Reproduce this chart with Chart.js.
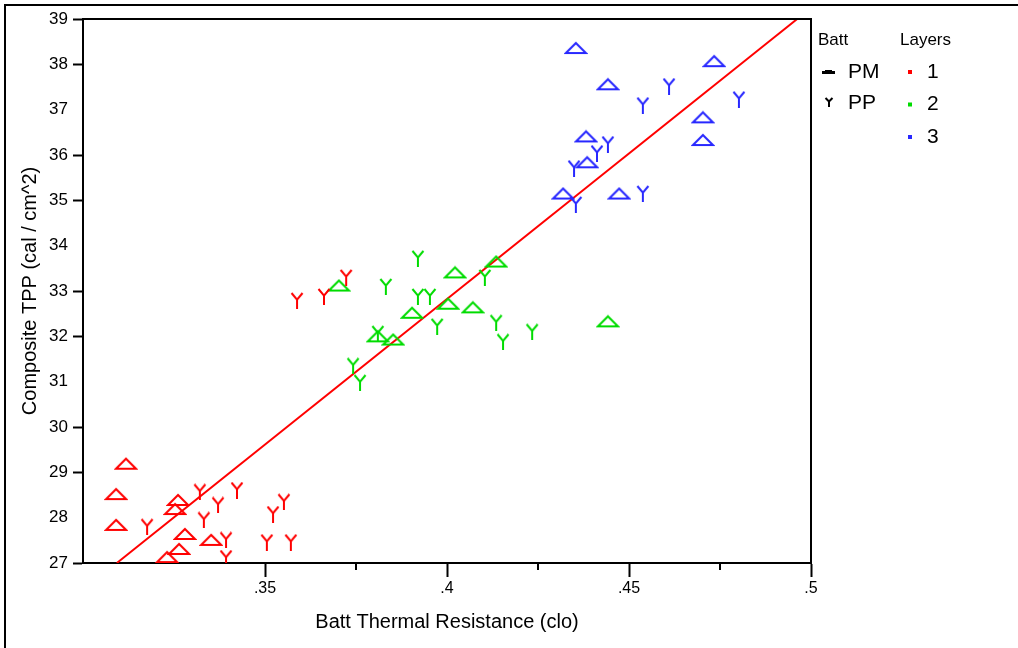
<!DOCTYPE html>
<html>
<head>
<meta charset="utf-8">
<script src="https://cdn.jsdelivr.net/npm/chart.js@4/dist/chart.umd.min.js"></script>
<style>
  html, body { margin: 0; padding: 0; background: #fff; }
  #wrap { width: 1018px; height: 648px; }
</style>
</head>
<body>
<div id="wrap"><canvas id="myChart" width="1018" height="648"></canvas></div>
<script>
  // data: [Batt thermal resistance (clo), composite TPP]
  const pmLayer1 = [[0.3118, 29.19], [0.3091, 28.52], [0.3091, 27.84], [0.3261, 28.39], [0.3253, 28.19],
                    [0.3280, 27.64], [0.3352, 27.51], [0.3264, 27.31], [0.3231, 27.13]];
  const ppLayer1 = [[0.3176, 27.80], [0.3321, 28.57], [0.3423, 28.61], [0.3371, 28.28], [0.3332, 27.95],
                    [0.3552, 28.35], [0.3522, 28.08], [0.3393, 27.51], [0.3505, 27.46], [0.3571, 27.46],
                    [0.3393, 27.11], [0.3723, 33.30], [0.3662, 32.88], [0.3588, 32.79]];
  const pmLayer2 = [[0.3703, 33.12], [0.4022, 33.41], [0.4135, 33.65], [0.4003, 32.72], [0.4071, 32.64],
                    [0.3904, 32.52], [0.3810, 32.00], [0.3852, 31.93], [0.4442, 32.33]];
  const ppLayer2 = [[0.3920, 33.72], [0.3832, 33.10], [0.3920, 32.88], [0.3953, 32.88], [0.3973, 32.22],
                    [0.4104, 33.30], [0.4135, 32.30], [0.4154, 31.88], [0.4234, 32.10], [0.3742, 31.35],
                    [0.3761, 30.98], [0.3810, 32.06]];
  const pmLayer3 = [[0.4354, 38.36], [0.4442, 37.56], [0.4734, 38.07], [0.4703, 36.83], [0.4703, 36.33],
                    [0.4382, 36.41], [0.4385, 35.84], [0.4319, 35.15], [0.4473, 35.15]];
  const ppLayer3 = [[0.4610, 37.52], [0.4538, 37.10], [0.4802, 37.23], [0.4442, 36.24], [0.4412, 36.04],
                    [0.4349, 35.71], [0.4538, 35.15], [0.4354, 34.91]];

  // fit line (two ends)
  const fitX = [0.3093, 0.4962];
  const fitY = [27, 39];

  const xTickValues = [0.35, 0.4, 0.45, 0.5];
  const xTickLabels = ['.35', '.4', '.45', '.5'];
  const xMinorTicks = [0.375, 0.425, 0.475];
  const yNoTick = [37, 34, 31, 28];

  const battNames = ['PM', 'PP'];
  const layerNames = ['1', '2', '3'];
  const layerColors = ['#ff0000', '#00dc00', '#2828ff'];

  function triMarker(color) {
    const c = document.createElement('canvas');
    c.width = 24; c.height = 14;
    const g = c.getContext('2d');
    g.strokeStyle = color;
    g.lineWidth = 2;
    g.beginPath();
    g.moveTo(2, 12); g.lineTo(12, 2); g.lineTo(22, 12); g.closePath();
    g.stroke();
    return c;
  }

  function yMarker(color, w, h) {
    const c = document.createElement('canvas');
    c.width = w; c.height = h;
    const g = c.getContext('2d');
    g.strokeStyle = color;
    g.lineWidth = 2;
    const mx = w / 2, my = h * 0.45;
    g.beginPath();
    g.moveTo(1.5, 1); g.lineTo(mx, my);
    g.moveTo(w - 1.5, 1); g.lineTo(mx, my);
    g.moveTo(mx, my); g.lineTo(mx, h);
    g.stroke();
    return c;
  }

  const toPts = arr => arr.map(p => ({ x: p[0], y: p[1] }));

  function scatterSet(label, data, marker) {
    return { type: 'scatter', label: label, data: toPts(data), pointStyle: marker,
             pointRadius: 8, pointHoverRadius: 8 };
  }

  // frame lines, minor ticks and the two-column legend
  const extras = {
    id: 'extras',
    afterDraw(chart) {
      const g = chart.ctx;
      const a = chart.chartArea;
      const xs = chart.scales.x;
      g.save();
      g.strokeStyle = '#000';
      g.lineWidth = 2;
      g.beginPath();
      g.moveTo(5, 648); g.lineTo(5, 5); g.lineTo(1018, 5);
      g.moveTo(a.left, a.top); g.lineTo(a.right, a.top); g.lineTo(a.right, a.bottom);
      xMinorTicks.forEach(v => {
        const px = xs.getPixelForValue(v);
        g.moveTo(px, a.bottom); g.lineTo(px, a.bottom + 7);
      });
      g.stroke();

      // legend
      g.fillStyle = '#000';
      g.textBaseline = 'middle';
      g.font = '17px "Liberation Sans", Arial, sans-serif';
      g.fillText('Batt', 818, 40);
      g.fillText('Layers', 900, 40);
      g.font = '21px "Liberation Sans", Arial, sans-serif';
      battNames.forEach((n, i) => g.fillText(n, 848, 72 + i * 31));
      layerNames.forEach((n, i) => g.fillText(n, 927, 72 + i * 32.5));
      // PM symbol
      g.fillRect(822, 71, 13, 3);
      g.fillRect(825, 70, 7, 1);
      // PP symbol
      g.drawImage(yMarker('#000', 10, 10), 824, 97);
      layerColors.forEach((c, i) => {
        g.fillStyle = c;
        g.fillRect(908, 70 + i * 32.5, 4, 4);
      });
      g.restore();
    }
  };

  const fontFamily = '"Liberation Sans", Arial, sans-serif';

  new Chart(document.getElementById('myChart'), {
    data: {
      datasets: [
        scatterSet('PM 1', pmLayer1, triMarker(layerColors[0])),
        scatterSet('PP 1', ppLayer1, yMarker(layerColors[0], 14, 17)),
        scatterSet('PM 2', pmLayer2, triMarker(layerColors[1])),
        scatterSet('PP 2', ppLayer2, yMarker(layerColors[1], 14, 17)),
        scatterSet('PM 3', pmLayer3, triMarker(layerColors[2])),
        scatterSet('PP 3', ppLayer3, yMarker(layerColors[2], 14, 17)),
        {
          type: 'line', label: 'Fit',
          data: fitX.map((x, i) => ({ x: x, y: fitY[i] })),
          borderColor: '#ff0000', borderWidth: 2, pointRadius: 0, fill: false
        }
      ]
    },
    options: {
      responsive: false,
      animation: false,
      devicePixelRatio: 1,
      layout: { padding: { top: 19, right: 207, left: 0, bottom: 0 } },
      plugins: { legend: { display: false }, tooltip: { enabled: false } },
      scales: {
        x: {
          type: 'linear', min: 0.3, max: 0.5,
          afterFit(scale) { scale.height = 85; },
          afterBuildTicks(scale) { scale.ticks = xTickValues.map(v => ({ value: v })); },
          grid: { drawOnChartArea: false, tickLength: 14, tickColor: '#000', tickWidth: 2 },
          border: { color: '#000', width: 2 },
          ticks: {
            color: '#000', padding: 2, maxRotation: 0, autoSkip: false,
            font: { family: fontFamily, size: 16 },
            callback(value) {
              const i = xTickValues.findIndex(v => Math.abs(v - value) < 1e-6);
              return i >= 0 ? xTickLabels[i] : '';
            }
          },
          title: {
            display: true, text: 'Batt Thermal Resistance (clo)', color: '#000',
            font: { family: fontFamily, size: 20 }, padding: { top: 0, bottom: 14 }
          }
        },
        y: {
          type: 'linear', min: 27, max: 39,
          afterFit(scale) { scale.width = 83; },
          grid: {
            drawOnChartArea: false, tickLength: 10, tickWidth: 2,
            tickColor: ctx => yNoTick.includes(ctx.tick && ctx.tick.value) ? 'rgba(0,0,0,0)' : '#000'
          },
          border: { color: '#000', width: 2 },
          ticks: {
            stepSize: 1, color: '#000', padding: 5,
            font: { family: fontFamily, size: 17 }
          },
          title: {
            display: true, text: 'Composite TPP (cal / cm^2)', color: '#000',
            font: { family: fontFamily, size: 20 }, padding: { top: 18, bottom: 0 }
          }
        }
      }
    },
    plugins: [extras]
  });
</script>
</body>
</html>
